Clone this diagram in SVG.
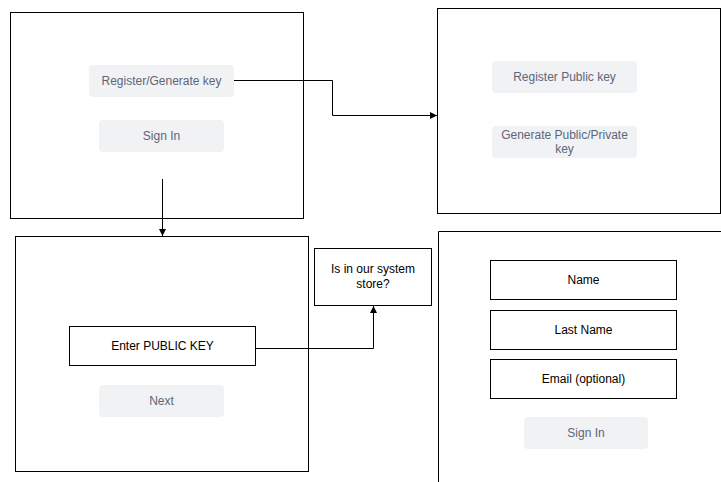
<svg xmlns="http://www.w3.org/2000/svg" width="721" height="482" viewBox="0 0 721 482">
<defs>
<style>
.frame{fill:#fff;stroke:#000;stroke-width:1}
.btn{fill:#f1f2f4;stroke:none}
.btxt{font-family:"Liberation Sans",Arial,sans-serif;font-size:12px;fill:#5f6678;text-anchor:middle}
.field{fill:#fff;stroke:#000;stroke-width:1}
.ftxt{font-family:"Liberation Sans",Arial,sans-serif;font-size:12px;fill:#000;text-anchor:middle}
.conn{fill:none;stroke:#000;stroke-width:1}
</style>
<marker id="arr" viewBox="0 0 10 10" refX="10" refY="5" markerWidth="7" markerHeight="7" orient="auto" markerUnits="userSpaceOnUse">
<path d="M0,0 L10,5 L0,10 z" fill="#000"/>
</marker>
</defs>
<rect width="721" height="482" fill="#fff"/>
<g id="screen1">
<rect class="frame" x="10.5" y="12.5" width="293" height="206"/>
<g id="btn-register"><rect class="btn" x="89" y="65" width="145" height="32" rx="4"/><text class="btxt" x="161.5" y="85">Register/Generate key</text></g>
<g id="btn-signin1"><rect class="btn" x="99" y="120" width="125" height="32" rx="4"/><text class="btxt" x="161.5" y="140">Sign In</text></g>
</g>
<g id="screen2">
<rect class="frame" x="437.5" y="8.5" width="283" height="205"/>
<g id="btn-regpub"><rect class="btn" x="492" y="61" width="145" height="32" rx="4"/><text class="btxt" x="564.5" y="81">Register Public key</text></g>
<g id="btn-genpub"><rect class="btn" x="492" y="126" width="145" height="32" rx="4"/><text class="btxt" x="564.5" y="139">Generate Public/Private</text><text class="btxt" x="564.5" y="153">key</text></g>
</g>
<g id="screen3">
<rect class="frame" x="15.5" y="236.5" width="293" height="235"/>
<g id="field-pubkey"><rect class="field" x="69.5" y="326.5" width="186" height="39"/><text class="ftxt" x="162.5" y="350">Enter PUBLIC KEY</text></g>
<g id="btn-next"><rect class="btn" x="99" y="385" width="125" height="32" rx="4"/><text class="btxt" x="161.5" y="405">Next</text></g>
</g>
<g id="decision">
<rect class="field" x="314.5" y="248.5" width="117" height="57"/>
<text class="ftxt" x="373" y="273">Is in our system</text>
<text class="ftxt" x="373" y="288">store?</text>
</g>
<g id="screen4">
<path class="conn" d="M721,231.5 H438.5 V482"/>
<g id="field-name"><rect class="field" x="490.5" y="260.5" width="186" height="39"/><text class="ftxt" x="583.5" y="284">Name</text></g>
<g id="field-last"><rect class="field" x="490.5" y="310.5" width="186" height="39"/><text class="ftxt" x="583.5" y="334">Last Name</text></g>
<g id="field-email"><rect class="field" x="490.5" y="359.5" width="186" height="39"/><text class="ftxt" x="583.5" y="383">Email (optional)</text></g>
<g id="btn-signin2"><rect class="btn" x="524" y="417" width="124" height="32" rx="4"/><text class="btxt" x="586" y="437">Sign In</text></g>
</g>
<g id="connectors">
<path class="conn" d="M234,80.5 H332.5 V115.5 H437" marker-end="url(#arr)"/>
<path class="conn" d="M162.5,179 V236" marker-end="url(#arr)"/>
<path class="conn" d="M255,348.5 H373.5 V306" marker-end="url(#arr)"/>
</g>
</svg>
